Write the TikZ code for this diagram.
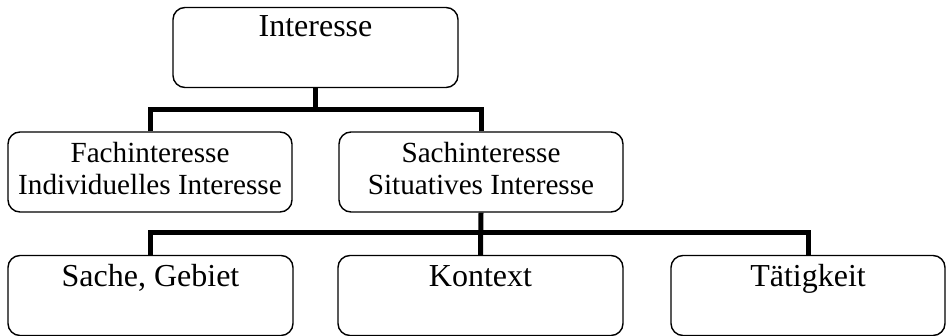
\documentclass[tikz,border=0pt]{standalone}
\usepackage{fontspec}
\setmainfont{Liberation Serif}
\begin{document}
\begin{tikzpicture}[x=1pt,y=-1pt,
  box/.style={draw=black, line width=1.4pt, rounded corners=12pt, inner sep=0pt, minimum width=#1, minimum height=80pt},
  box/.default=285pt,
  conn/.style={draw=black, line width=5pt, line join=miter, line cap=butt},
  big/.style={font=\fontsize{32}{35}\selectfont, anchor=base, inner sep=0pt},
  mid/.style={font=\fontsize{29.2}{32}\selectfont, anchor=base, align=center, inner sep=0pt}]
\useasboundingbox (0,0) rectangle (947,336);
% boxes
\node[box] (top) at (315.5,47.5) {};
\node[box=284pt] (fach) at (150,172) {};
\node[box=284pt] (sach) at (481,172) {};
\node[box=285pt] (sg) at (150.5,295.5) {};
\node[box=285pt] (kon) at (480.5,295.5) {};
\node[box=274pt] (tae) at (808,295.5) {};
% texts
\node[big] (ttop) at (315.5,37) {Interesse};
\node[mid] (tfach) at (150,195) {Fachinteresse\\Individuelles Interesse};
\node[mid] (tsach) at (481,195) {Sachinteresse\\Situatives Interesse};
\node[big] (tsg) at (150.5,287) {Sache, Gebiet};
\node[big] (tkon) at (480.5,287) {Kontext};
\node[big] (ttae) at (808,287) {Tätigkeit};
% connectors
\coordinate (b1) at (0,110);
\coordinate (b2) at (0,233);
\draw[conn] (top.south) -- (top.south |- b1);
\draw[conn] (fach.north) |- (top.south |- b1) -| (sach.north);
\draw[conn] (sach.south) -- (kon.north);
\draw[conn] (sg.north) |- (kon.north |- b2) -| (tae.north);
\end{tikzpicture}
\end{document}
